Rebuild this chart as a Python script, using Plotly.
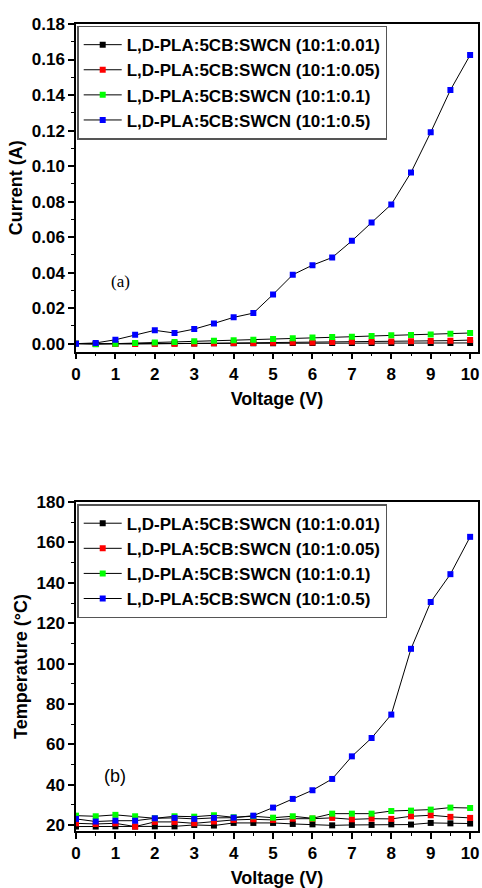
import plotly.graph_objects as go

voltage = [0, 0.5, 1, 1.5, 2, 2.5, 3, 3.5, 4, 4.5, 5, 5.5, 6, 6.5, 7, 7.5, 8, 8.5, 9, 9.5, 10]

labels = ["L,D-PLA:5CB:SWCN (10:1:0.01)", "L,D-PLA:5CB:SWCN (10:1:0.05)",
          "L,D-PLA:5CB:SWCN (10:1:0.1)", "L,D-PLA:5CB:SWCN (10:1:0.5)"]
colors = ["#000000", "#ff0000", "#00ff00", "#0000ff"]

current_001 = [0, 0, 0, 0.0001, 0.0001, 0.0001, 0.0001, 0.0002, 0.0002, 0.0002, 0.0002,
               0.0003, 0.0003, 0.0003, 0.0003, 0.0003, 0.0004, 0.0004, 0.0004, 0.0004, 0.0004]
current_005 = [0, -0.0002, -0.0002, -0.0002, -0.0001, 0, 0.0001, 0.0002, 0.0003, 0.0004, 0.0005,
               0.0006, 0.0007, 0.0009, 0.0010, 0.0011, 0.0012, 0.0014, 0.0015, 0.0017, 0.0020]
current_01 = [0, -0.0003, 0, 0.0003, 0.0007, 0.0009, 0.0013, 0.0017, 0.0019, 0.0022, 0.0026,
              0.0030, 0.0034, 0.0037, 0.0039, 0.0043, 0.0047, 0.0049, 0.0052, 0.0056, 0.0060]
current_05 = [0, 0.0004, 0.0022, 0.0050, 0.0075, 0.0060, 0.0082, 0.0114, 0.0148, 0.0172, 0.0277,
              0.0388, 0.0442, 0.0485, 0.0579, 0.0682, 0.0784, 0.0964, 0.1190, 0.1428, 0.1625]

temp_001 = [19.2, 19.2, 19.3, 19.2, 19.3, 19.3, 20.0, 19.7, 21.0, 21.0, 21.0,
            20.5, 20.3, 19.8, 20.0, 20.0, 20.3, 20.2, 21.0, 20.8, 20.7]
temp_005 = [20.8, 20.5, 20.8, 19.2, 21.5, 21.5, 20.8, 21.7, 22.5, 22.8, 22.5,
            23.1, 23.1, 23.5, 22.8, 23.1, 23.0, 24.3, 24.8, 24.0, 23.5]
temp_01 = [24.6, 24.3, 25.0, 24.3, 23.3, 24.3, 24.1, 24.8, 23.8, 24.3, 23.6,
           24.3, 23.3, 25.6, 25.6, 25.6, 26.9, 27.1, 27.6, 28.6, 28.4]
temp_05 = [23.0, 21.7, 22.1, 22.1, 23.3, 23.5, 23.0, 23.5, 23.6, 24.6, 28.6,
           32.9, 37.2, 42.8, 54.0, 63.1, 74.7, 107.3, 130.5, 144.3, 162.8]

current = [current_001, current_005, current_01, current_05]
temperature = [temp_001, temp_005, temp_01, temp_05]

FONT = "Liberation Sans, Arial, sans-serif"

fig = go.Figure()

for i in range(4):
    fig.add_trace(go.Scatter(
        x=voltage, y=current[i], name=labels[i], mode="lines+markers",
        line=dict(color="black", width=1),
        marker=dict(symbol="square", size=6, color=colors[i]),
        xaxis="x", yaxis="y", legend="legend"))
for i in range(4):
    fig.add_trace(go.Scatter(
        x=voltage, y=temperature[i], name=labels[i], mode="lines+markers",
        line=dict(color="black", width=1),
        marker=dict(symbol="square", size=6, color=colors[i]),
        xaxis="x2", yaxis="y2", legend="legend2"))

axis_common = dict(
    showline=True, linecolor="black", linewidth=1.5, mirror=True,
    ticks="outside", ticklen=6, tickwidth=1.5, tickcolor="black",
    showgrid=False, zeroline=False,
    tickfont=dict(family=FONT, size=17, color="black", weight="bold"),
    title_font=dict(family=FONT, size=18, color="black", weight="bold"),
)
minor_x = dict(ticks="outside", ticklen=3, tickwidth=1, tickcolor="black", dtick=0.5)

legend_common = dict(xanchor="left", yanchor="top",
                     bordercolor="#555555", borderwidth=1.5, bgcolor="white",
                     font=dict(family=FONT, size=17, color="black", weight="bold"),
                     tracegroupgap=0, itemwidth=38)

fig.update_layout(
    width=482, height=888,
    margin=dict(l=76, r=2, t=24, b=56),
    plot_bgcolor="white", paper_bgcolor="white",
    xaxis=dict(domain=[0, 1], anchor="y", range=[0, 10.2], tickvals=list(range(11)),
               minor=minor_x, title=dict(text="Voltage (V)", standoff=10), **axis_common),
    yaxis=dict(domain=[0.594, 1.0], anchor="x", range=[-0.0045, 0.18], dtick=0.02,
               tickformat=".2f",
               minor=dict(ticks="outside", ticklen=3, tickwidth=1, tickcolor="black", dtick=0.01),
               title=dict(text="Current (A)", standoff=4), **axis_common),
    xaxis2=dict(domain=[0, 1], anchor="y2", range=[0, 10.2], tickvals=list(range(11)),
                minor=minor_x, title=dict(text="Voltage (V)", standoff=10), **axis_common),
    yaxis2=dict(domain=[0.0, 0.4075], anchor="x2", range=[17, 180], dtick=20,
                minor=dict(ticks="outside", ticklen=3, tickwidth=1, tickcolor="black", dtick=10),
                title=dict(text="Temperature (°C)", standoff=4), **axis_common),
    legend=dict(x=0.003, y=0.998, **legend_common),
    legend2=dict(x=0.003, y=0.405, **legend_common),
    annotations=[
        dict(text="(a)", x=1.14, y=0.0348, xref="x", yref="y", showarrow=False,
             font=dict(family="Liberation Serif, Times New Roman, serif", size=17, color="black")),
        dict(text="(b)", x=0.98, y=44.3, xref="x2", yref="y2", showarrow=False,
             font=dict(family=FONT, size=18, color="black")),
    ],
)

fig.write_html("out.html")
